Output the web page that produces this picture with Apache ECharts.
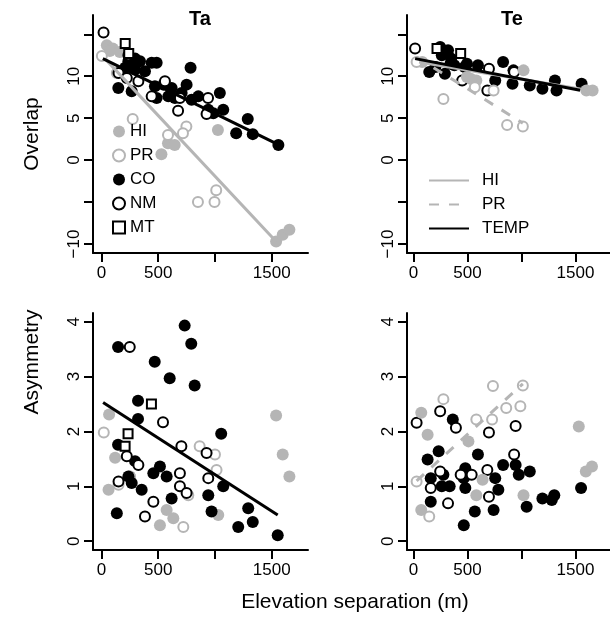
<!DOCTYPE html>
<html>
<head>
<meta charset="utf-8">
<script src="https://cdn.jsdelivr.net/npm/echarts@6/dist/echarts.min.js"></script>
<style>
html, body { margin: 0; padding: 0; background: #fff; }
#chart { width: 610px; height: 619px; }
</style>
</head>
<body>
<div id="chart"></div>
<script>
// Ta - overlap
var taOvCO = [[237,11.8],[296,12.1],[339,11.8],[442,11.6],[486,11.6],[208,11.0],[296,10.8],[383,10.6],[785,11.0],[148,8.6],[266,8.2],[471,8.8],[545,9.0],[618,8.6],[486,7.4],[589,7.6],[647,7.4],[706,8.0],[750,9.0],[794,7.2],[853,7.6],[941,6.0],[1043,8.0],[1073,6.0],[985,5.6],[1289,4.9],[1187,3.2],[1333,3.1],[1559,1.8]];
var taOvNM = [[18,15.2],[237,12.5],[150,10.4],[223,9.8],[325,9.4],[442,7.6],[559,9.4],[691,7.4],[675,5.9],[939,7.4],[926,5.5]];
var taOvMT = [[209,13.9],[240,12.7]];
var taOvHI = [[47,13.7],[99,13.3],[161,12.9],[73,13.0],[1026,3.6],[586,2.0],[645,1.8],[528,0.7],[1539,-9.7],[1597,-8.9],[1656,-8.3]];
var taOvPR = [[3,12.4],[135,10.4],[275,4.9],[586,3.0],[748,4.0],[718,3.2],[850,-5.0],[996,-5.0],[1011,-3.6]];
var taOvTempFit = [[12,12.1],[1568,1.8]];
var taOvHiFit = [[30,12.1],[1539,-9.7]];

// Te - overlap
var teOvCO = [[247,13.5],[320,13.1],[349,12.1],[262,12.5],[146,10.5],[291,10.3],[495,11.5],[597,11.3],[830,11.7],[757,9.5],[917,9.1],[1077,8.9],[1194,8.5],[1310,9.5],[1325,8.3],[1557,9.1],[343,11.5],[474,11.1],[926,10.7],[378,11.3],[203,11.1]];
var teOvNM = [[15,13.3],[451,9.5],[699,10.9],[932,10.5],[684,8.3]];
var teOvMT = [[218,13.3],[437,12.7]];
var teOvHI = [[81,11.7],[495,9.9],[582,9.5],[530,9.7],[1019,10.7],[1601,8.3],[1659,8.3]];
var teOvPR = [[29,11.7],[277,7.3],[568,8.7],[742,8.3],[867,4.2],[1013,4.0]];
var teOvTempFit = [[15,12.1],[1543,8.33]];
var teOvHiFit = [[52,11.7],[1667,8.2]];
var teOvPrFit = [[29,12.28],[1013,4.41]];

// Ta - asymmetry
var taAsCO = [[146,3.54],[733,3.93],[791,3.6],[469,3.27],[601,2.97],[821,2.84],[322,2.56],[322,2.23],[1055,1.96],[146,1.76],[296,1.46],[515,1.36],[457,1.24],[574,1.18],[237,1.18],[266,1.06],[354,0.94],[618,0.78],[135,0.51],[941,0.84],[970,0.54],[1073,1.0],[1205,0.26],[1293,0.6],[1333,0.35],[1553,0.11]];
var taAsNM = [[249,3.54],[542,2.17],[704,1.73],[926,1.61],[223,1.55],[325,1.39],[691,1.24],[941,1.15],[150,1.09],[691,1.0],[750,0.88],[457,0.72],[383,0.45]];
var taAsMT = [[440,2.5],[234,1.96],[208,1.73]];
var taAsHI = [[67,2.31],[1539,2.29],[1597,1.58],[1656,1.18],[120,1.52],[62,0.94],[574,0.57],[515,0.29],[633,0.42],[1029,0.48],[249,1.18]];
var taAsPR = [[20,1.98],[865,1.73],[1000,1.58],[1014,1.3],[765,0.84],[721,0.26],[251,1.18],[150,1.03]];
var taAsTempFit = [[14,2.53],[1553,0.48]];

// Te - asymmetry
var teAsCO = [[364,2.22],[233,1.64],[131,1.49],[597,1.58],[830,1.39],[946,1.39],[975,1.21],[1077,1.27],[480,1.33],[160,1.15],[277,1.21],[466,1.15],[757,1.15],[262,1.0],[335,1.0],[480,0.97],[786,0.94],[160,0.72],[568,0.54],[742,0.57],[466,0.29],[1048,0.63],[1194,0.78],[1281,0.75],[1304,0.84],[1552,0.97]];
var teAsNM = [[247,2.37],[393,2.07],[29,2.16],[699,1.98],[946,2.1],[932,1.58],[684,1.3],[247,1.27],[437,1.21],[539,1.21],[160,0.97],[699,0.81],[320,0.69]];
var teAsHI = [[72,2.34],[131,1.94],[509,1.82],[640,1.12],[582,0.84],[72,0.57],[1019,0.84],[1596,1.27],[1653,1.36],[1531,2.09]];
var teAsPR = [[277,2.59],[582,2.22],[728,2.22],[859,2.43],[990,2.46],[736,2.83],[1013,2.84],[29,1.09],[146,0.45]];
var teAsPrFit = [[29,1.1],[1013,2.87]];

// ticks
var xTicks = [0, 500, 1000, 1500];
var xTickLabels = [0, 500, 1500];
var ovTicks = [-10, -5, 0, 5, 10, 15];
var ovTickLabels = [-10, 0, 5, 10];
var asTicks = [0, 1, 2, 3, 4];
var asTickLabels = [0, 1, 2, 3, 4];

var GRAY = '#b5b5b5';
var FONT = '"Liberation Sans", Arial, sans-serif';

var myChart = echarts.init(document.getElementById('chart'));

function minusFmt(v) {
	return v < 0 ? '\u2212' + Math.abs(v) : String(v);
}

function makeAxis(idx, min, max, ticks, labels, isY) {
	return {
		type : 'value',
		gridIndex : idx,
		min : min,
		max : max,
		splitLine : { show : false },
		axisLine : { show : true, onZero : false, lineStyle : { color : '#000', width : 2 } },
		axisTick : { show : true, inside : false, length : 9, customValues : ticks, lineStyle : { color : '#000', width : 2 } },
		axisLabel : {
			customValues : labels,
			formatter : minusFmt,
			rotate : isY ? 90 : 0,
			margin : isY ? 10 : 12,
			fontSize : 17,
			fontFamily : FONT,
			color : '#000'
		}
	};
}

// scatter series for one group
function pts(name, data, ax) {
	var s = {
		name : name,
		type : 'scatter',
		xAxisIndex : ax,
		yAxisIndex : ax,
		data : data,
		symbol : 'circle',
		symbolSize : 12,
		itemStyle : { color : '#000', opacity : 1 }
	};
	if (name == 'HI') {
		s.itemStyle = { color : GRAY, opacity : 1 };
	} else if (name == 'PR') {
		s.symbolSize = 10;
		s.itemStyle = { color : '#fff', borderColor : GRAY, borderWidth : 2, opacity : 1 };
	} else if (name == 'NM') {
		s.symbolSize = 10;
		s.itemStyle = { color : '#fff', borderColor : '#000', borderWidth : 2, opacity : 1 };
	} else if (name == 'MT') {
		s.symbol = 'rect';
		s.symbolSize = 9;
		s.itemStyle = { color : '#fff', borderColor : '#000', borderWidth : 2, opacity : 1 };
	}
	return s;
}

function fit(name, data, ax, color, dashed) {
	return {
		name : name,
		type : 'line',
		xAxisIndex : ax,
		yAxisIndex : ax,
		data : data,
		symbol : 'none',
		lineStyle : { color : color, width : 3, type : dashed ? [10, 10] : 'solid' },
		itemStyle : { color : color }
	};
}

var series = [
	pts('HI', taOvHI, 0), pts('PR', taOvPR, 0), pts('CO', taOvCO, 0), pts('NM', taOvNM, 0), pts('MT', taOvMT, 0),
	pts('CO', teOvCO, 1), pts('NM', teOvNM, 1), pts('MT', teOvMT, 1), pts('HI', teOvHI, 1), pts('PR', teOvPR, 1),
	pts('HI', taAsHI, 2), pts('PR', taAsPR, 2), pts('CO', taAsCO, 2), pts('NM', taAsNM, 2), pts('MT', taAsMT, 2),
	pts('CO', teAsCO, 3), pts('NM', teAsNM, 3), pts('HI', teAsHI, 3), pts('PR', teAsPR, 3),
	fit('HI fit', taOvHiFit, 0, GRAY, false),
	fit('TEMP', taOvTempFit, 0, '#000', false),
	fit('HI fit', teOvHiFit, 1, GRAY, false),
	fit('PR fit', teOvPrFit, 1, GRAY, true),
	fit('TEMP', teOvTempFit, 1, '#000', false),
	fit('TEMP', taAsTempFit, 2, '#000', false),
	fit('PR fit', teAsPrFit, 3, GRAY, true)
];

var option = {
	animation : false,
	backgroundColor : '#fff',
	textStyle : { fontFamily : FONT },
	title : [
		{ text : 'Ta', left : 200, top : 9, textAlign : 'center', padding : 0, textStyle : { fontSize : 20, fontWeight : 'bold', color : '#000', fontFamily : FONT } },
		{ text : 'Te', left : 512, top : 9, textAlign : 'center', padding : 0, textStyle : { fontSize : 20, fontWeight : 'bold', color : '#000', fontFamily : FONT } }
	],
	grid : [
		{ left : 93, top : 15, width : 215, height : 238 },
		{ left : 407, top : 15, width : 215, height : 238 },
		{ left : 93, top : 313, width : 215, height : 237 },
		{ left : 407, top : 313, width : 215, height : 237 }
	],
	xAxis : [
		makeAxis(0, -75, 1820, xTicks, xTickLabels, false),
		makeAxis(1, -60, 1820, xTicks, xTickLabels, false),
		makeAxis(2, -75, 1820, xTicks, xTickLabels, false),
		makeAxis(3, -60, 1820, xTicks, xTickLabels, false)
	],
	yAxis : [
		makeAxis(0, -11.07, 17.3, ovTicks, ovTickLabels, true),
		makeAxis(1, -11.07, 17.3, ovTicks, ovTickLabels, true),
		makeAxis(2, -0.16, 4.16, asTicks, asTickLabels, true),
		makeAxis(3, -0.16, 4.16, asTicks, asTickLabels, true)
	],
	legend : [
		{
			data : ['HI', 'PR', 'CO', 'NM', 'MT'],
			orient : 'vertical',
			left : 107,
			top : 118,
			itemWidth : 12,
			itemHeight : 12,
			itemGap : 7,
			selectedMode : false,
			textStyle : { fontSize : 17, color : '#000', fontFamily : FONT, padding : [0, 0, 0, 0] }
		},
		{
			data : ['HI fit', 'PR fit', 'TEMP'],
			orient : 'vertical',
			left : 423,
			top : 167,
			itemWidth : 40,
			itemHeight : 14,
			itemGap : 7,
			selectedMode : false,
			itemStyle : { color : 'rgba(0,0,0,0)', borderWidth : 0, opacity : 0 },
			formatter : function(name) {
				return name.replace(' fit', '');
			},
			textStyle : { fontSize : 17, color : '#000', fontFamily : FONT, padding : [0, 0, 0, 8] }
		}
	],
	graphic : [
		{ type : 'text', x : 32, y : 134, rotation : Math.PI / 2, style : { text : 'Overlap', fontSize : 21, fontFamily : FONT, fill : '#000', textAlign : 'center', textVerticalAlign : 'middle' } },
		{ type : 'text', x : 32, y : 362, rotation : Math.PI / 2, style : { text : 'Asymmetry', fontSize : 21, fontFamily : FONT, fill : '#000', textAlign : 'center', textVerticalAlign : 'middle' } },
		{ type : 'text', x : 355, y : 602, style : { text : 'Elevation separation (m)', fontSize : 21, fontFamily : FONT, fill : '#000', textAlign : 'center', textVerticalAlign : 'middle' } }
	],
	series : series
};
myChart.setOption(option);
</script>
</body>
</html>
